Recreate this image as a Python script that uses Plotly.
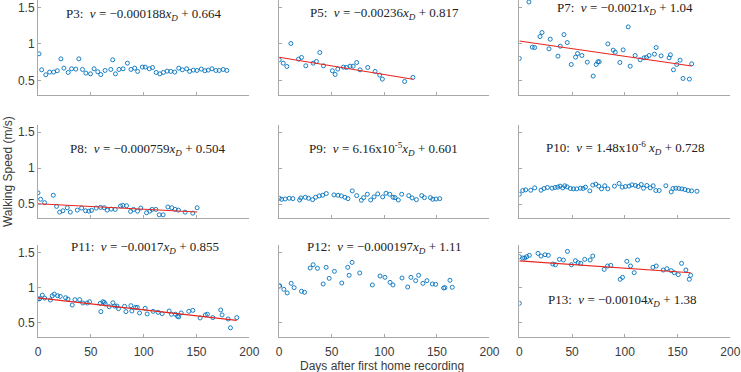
import plotly.graph_objects as go

# ---------------- data ----------------
panel_names = ["P3", "P5", "P7", "P8", "P9", "P10", "P11", "P12", "P13"]

p3_days = [1, 3.5, 7.4, 11, 14.8, 18.3, 21.7, 24.5, 28.6, 31.8, 35.8, 38.7, 42.1, 45.3, 49.7, 53.1, 56.6, 59.4,
           63.5, 68.9, 70.7, 73.3, 76.7, 80.5, 84.6, 88, 91.5, 94.3, 98.7, 101.5, 105.3, 108.4, 111.8, 115.3,
           118.7, 122.2, 125.6, 129.4, 133.2, 136.6, 140.7, 143.5, 147, 150.4, 154.5, 157.9, 161.1, 164.6,
           168.3, 171.5, 175.3, 178.7]
p3_speed = [0.864, 0.645, 0.577, 0.614, 0.614, 0.632, 0.795, 0.668, 0.609, 0.659, 0.655, 0.795, 0.65, 0.6,
            0.59, 0.659, 0.618, 0.58, 0.636, 0.65, 0.782, 0.59, 0.65, 0.659, 0.736, 0.65, 0.668, 0.623, 0.682,
            0.682, 0.659, 0.677, 0.609, 0.59, 0.609, 0.627, 0.623, 0.614, 0.668, 0.645, 0.659, 0.623, 0.641,
            0.636, 0.655, 0.632, 0.641, 0.659, 0.636, 0.636, 0.65, 0.636]

p5_days = [0, 3.8, 7.3, 11.1, 18.4, 21.2, 25.3, 32.3, 35.4, 38.6, 42.1, 50.6, 53.2, 55.7, 61.1, 63.9, 67.4,
           70.3, 73.7, 76.9, 84.2, 91.2, 95.6, 98.1, 119.3, 127.2]
p5_speed = [0.782, 0.736, 0.691, 1.005, 0.791, 0.814, 0.7, 0.736, 0.759, 0.882, 0.7, 0.632, 0.582, 0.655,
            0.682, 0.677, 0.695, 0.695, 0.745, 0.645, 0.677, 0.623, 0.573, 0.518, 0.486, 0.541]

p7_days = [0, 9.1, 12.3, 14.5, 19.6, 21.5, 28.1, 29.3, 36.6, 38.8, 42.3, 45.4, 49.2, 53.3, 55.2, 59.3, 64.4,
           70, 72.9, 74.5, 75.7, 83.9, 89, 90.9, 95.3, 98.4, 103.2, 105.1, 109.8, 114.5, 118.3, 120.5, 123,
           128.1, 129.7, 134.4, 142, 143.2, 146.1, 149.2, 152.4, 155.2, 161.2, 163.4]
p7_speed = [0.8, 1.573, 0.955, 0.95, 1.1, 1.155, 0.932, 1.064, 0.832, 0.968, 1.127, 1.018, 0.718, 0.818,
            0.868, 0.841, 0.75, 0.559, 0.718, 0.755, 0.755, 1.0, 0.914, 0.886, 0.745, 0.918, 1.232, 0.695,
            0.841, 0.782, 0.809, 0.814, 0.841, 0.859, 0.95, 0.836, 0.809, 0.85, 0.645, 0.718, 0.777, 0.527,
            0.518, 0.727]

p8_days = [0, 2.5, 6.3, 14.5, 17.6, 20.5, 23.6, 27.7, 30.6, 37.2, 41.3, 45, 48.2, 50.7, 55.1, 59.2, 62.7,
           65.5, 69.3, 73.1, 78.1, 80.3, 83.8, 87.6, 90.4, 94.2, 97.3, 102.7, 105.8, 108, 111.5, 114.7, 118.4,
           122.9, 126.6, 129.8, 132.9, 139.2, 146.5, 150.6]
p8_speed = [0.655, 0.566, 0.519, 0.622, 0.467, 0.387, 0.406, 0.448, 0.387, 0.415, 0.444, 0.406, 0.401, 0.411,
            0.444, 0.453, 0.448, 0.415, 0.429, 0.425, 0.472, 0.481, 0.476, 0.397, 0.425, 0.401, 0.444, 0.378,
            0.401, 0.425, 0.425, 0.35, 0.35, 0.458, 0.448, 0.425, 0.415, 0.387, 0.373, 0.448]

p9_days = [0, 2.2, 5.7, 9.5, 13, 19.4, 20.6, 24.8, 27.9, 31.8, 34.6, 38.1, 41.3, 44.8, 52.1, 55.9, 59.1, 62.5,
           65.4, 69.5, 73.7, 78.1, 80.3, 83.8, 87, 90.2, 93.7, 98.4, 101.6, 105.1, 108.3, 110.2, 113.3, 116.5,
           123.2, 126.4, 130.5, 135.6, 138.1, 143.8, 146, 149.2, 152.7]
p9_speed = [0.58, 0.566, 0.57, 0.58, 0.575, 0.556, 0.585, 0.594, 0.58, 0.561, 0.594, 0.613, 0.622, 0.646,
            0.627, 0.622, 0.613, 0.594, 0.575, 0.683, 0.617, 0.552, 0.589, 0.636, 0.556, 0.599, 0.641, 0.599,
            0.65, 0.636, 0.594, 0.589, 0.556, 0.636, 0.617, 0.585, 0.561, 0.617, 0.589, 0.589, 0.566, 0.57,
            0.575]

p10_days = [0, 3.2, 6, 10.8, 14.6, 20.6, 23.4, 26.6, 31, 33.9, 36.4, 38.6, 41.1, 43, 45.3, 48.4, 51.3, 54.4,
            57.9, 60.5, 62.7, 66.8, 69.6, 72.5, 75.3, 77.9, 81, 83.9, 90.2, 94.6, 97.5, 100.6, 104.1, 106.7,
            110.1, 112.7, 115.5, 117.7, 120.9, 124.1, 126.9, 129.4, 132.6, 138.9, 144, 145.6, 148.4, 151.3,
            154.1, 157, 160.1, 163.3, 168.4]
p10_speed = [0.636, 0.688, 0.697, 0.692, 0.725, 0.692, 0.716, 0.73, 0.72, 0.73, 0.735, 0.749, 0.725, 0.754,
             0.739, 0.716, 0.711, 0.711, 0.72, 0.716, 0.735, 0.683, 0.763, 0.777, 0.749, 0.711, 0.754, 0.711,
             0.749, 0.786, 0.735, 0.744, 0.749, 0.767, 0.758, 0.744, 0.772, 0.72, 0.758, 0.725, 0.754, 0.688,
             0.688, 0.754, 0.669, 0.716, 0.72, 0.716, 0.711, 0.702, 0.688, 0.683, 0.678]

p11_days = [0, 1.6, 4.1, 6.3, 11.7, 13.5, 15.4, 18.6, 21.1, 26.1, 28.4, 32.4, 35, 39.4, 42.5, 46.6, 48.8, 58.9,
            59.5, 61.4, 62.7, 63.6, 67.4, 70.9, 72.5, 74.7, 76.2, 81.9, 83.2, 87.9, 88.8, 92.3, 93.9, 96.1,
            101.4, 103.3, 109, 113.7, 117.5, 124.1, 126.3, 130.1, 132, 133.2, 135.5, 142.7, 146.5, 153.4,
            158.4, 160.3, 165.4, 172.9, 174.2, 179.9, 182.1, 188.1]
p11_speed = [0.838, 0.843, 0.894, 0.852, 0.824, 0.885, 0.908, 0.885, 0.876, 0.857, 0.838, 0.754, 0.829, 0.829,
             0.782, 0.782, 0.8, 0.777, 0.66, 0.8, 0.791, 0.768, 0.73, 0.786, 0.739, 0.739, 0.702, 0.735, 0.66,
             0.744, 0.669, 0.72, 0.72, 0.641, 0.707, 0.627, 0.664, 0.65, 0.631, 0.669, 0.622, 0.622, 0.594,
             0.585, 0.641, 0.664, 0.678, 0.57, 0.613, 0.622, 0.575, 0.683, 0.613, 0.556, 0.43, 0.575]

p12_days = [0, 0.6, 4.4, 7.6, 11.4, 14.2, 21.2, 24.1, 29.4, 32.3, 36.4, 41.8, 44.6, 47.5, 52.5, 59.5, 65.2,
            66.5, 69.3, 76.6, 88.6, 95.9, 100.6, 105.4, 108.2, 116.8, 122.2, 125.3, 129.8, 132.6, 136.7,
            140.5, 145.6, 148.8, 156.4, 157.6, 162.4, 164.6]
p12_speed = [1.024, 1.024, 0.976, 0.925, 1.061, 1.0, 0.948, 0.934, 1.278, 1.325, 1.274, 1.052, 1.288, 1.132,
             1.231, 1.066, 1.288, 1.175, 1.358, 1.208, 1.038, 1.165, 1.146, 1.075, 1.038, 1.137, 1.009, 1.146,
             1.099, 1.175, 1.061, 1.099, 1.052, 1.047, 0.995, 1.0, 1.104, 1.005]

p13_days = [0, 0, 3.2, 5.1, 7, 9.5, 17.7, 20.6, 24.4, 27.5, 31.7, 34.2, 38, 41.8, 45.6, 49.4, 53.2, 55.7, 58.2,
            62, 67.1, 69.6, 80.4, 83.6, 86.7, 95.6, 97.8, 101.9, 105.4, 108.9, 112, 126.6, 129.8, 136.4,
            139.9, 144, 146.9, 150.7, 153.8, 157.9, 161.1, 162.4]
p13_speed = [0.778, 1.439, 1.42, 1.42, 1.439, 1.458, 1.486, 1.448, 1.467, 1.458, 1.335, 1.325, 1.401, 1.392,
             1.514, 1.325, 1.382, 1.354, 1.344, 1.401, 1.392, 1.448, 1.259, 1.307, 1.316, 1.118, 1.146, 1.373,
             1.307, 1.212, 1.392, 1.288, 1.307, 1.25, 1.269, 1.241, 1.212, 1.184, 1.344, 1.25, 1.118, 1.175]

# regression coefficients (from the panel labels)
fit_slope = [-0.000188, -0.00236, -0.0021, -0.000759, 6.16e-5, 1.48e-6, -0.0017, -0.000197, -0.00104]
fit_intercept = [0.664, 0.817, 1.04, 0.504, 0.601, 0.728, 0.855, 1.11, 1.38]
fit_shown = [False, True, True, True, False, False, True, False, True]

eq_labels = [
    "P3:  <i>v</i> = \u22120.000188<i>x<sub>D</sub></i> + 0.664",
    "P5:  <i>v</i> = \u22120.00236<i>x<sub>D</sub></i> + 0.817",
    "P7:  <i>v</i> = \u22120.0021<i>x<sub>D</sub></i> + 1.04",
    "P8:  <i>v</i> = \u22120.000759<i>x<sub>D</sub></i> + 0.504",
    "P9:  <i>v</i> = 6.16x10<sup>-5</sup><i>x<sub>D</sub></i> + 0.601",
    "P10:  <i>v</i> = 1.48x10<sup>-6</sup> <i>x<sub>D</sub></i> + 0.728",
    "P11:  <i>v</i> = \u22120.0017<i>x<sub>D</sub></i> + 0.855",
    "P12:  <i>v</i> = \u22120.000197<i>x<sub>D</sub></i> + 1.11",
    "P13:  <i>v</i> = \u22120.00104<i>x<sub>D</sub></i> + 1.38",
]
label_x = [100, 100, 100, 104, 99, 101, 101, 100, 98]
label_y = [1.408, 1.418, 1.49, 1.262, 1.262, 1.276, 1.57, 1.57, 0.814]

x_ticks = [0, 50, 100, 150, 200]
y_ticks = [0.5, 1, 1.5]
y_tick_text = ["0.5", "1", "1.5"]
x_title = "Days after first home recording"
y_title = "Walking Speed (m/s)"

all_days = [p3_days, p5_days, p7_days, p8_days, p9_days, p10_days, p11_days, p12_days, p13_days]
all_speed = [p3_speed, p5_speed, p7_speed, p8_speed, p9_speed, p10_speed, p11_speed, p12_speed, p13_speed]

# ---------------- layout geometry ----------------
col_domains = [[0.0014, 0.306], [0.349, 0.652], [0.695, 0.999]]
row_domains = [[0.718, 1.0], [0.352, 0.629], [0.0, 0.272]]

MARKER_COLOR = "#0072BD"
LINE_COLOR = "#E8251F"
AXIS_COLOR = "#A8A8A8"
TEXT_COLOR = "#3A3A3A"

fig = go.Figure()
layout = {}
annotations = []

for i, name in enumerate(panel_names):
    r, c = divmod(i, 3)
    k = "" if i == 0 else str(i + 1)
    xa, ya = "x" + k, "y" + k
    fig.add_trace(go.Scatter(
        x=all_days[i], y=all_speed[i], mode="markers", xaxis=xa, yaxis=ya,
        marker=dict(symbol="circle-open", size=4, color=MARKER_COLOR, line=dict(width=0.9, color=MARKER_COLOR)),
        showlegend=False, hoverinfo="x+y"))
    if fit_shown[i]:
        xmax = max(all_days[i])
        fig.add_trace(go.Scatter(
            x=[0, xmax], y=[fit_intercept[i], fit_intercept[i] + fit_slope[i] * xmax],
            mode="lines", xaxis=xa, yaxis=ya, line=dict(color=LINE_COLOR, width=1.1),
            showlegend=False, hoverinfo="skip"))
    layout["xaxis" + k] = dict(
        domain=col_domains[c], anchor=ya, range=[0, 200], tickvals=x_ticks,
        showticklabels=(r == 2), ticks="inside", ticklen=3, tickcolor=AXIS_COLOR,
        showline=True, linecolor=AXIS_COLOR, linewidth=1, showgrid=False, zeroline=False,
        tickfont=dict(family="Liberation Sans, Arial", size=12, color=TEXT_COLOR), ticklabelstandoff=4)
    layout["yaxis" + k] = dict(
        domain=row_domains[r], anchor=xa, range=[0.3, 1.6], tickvals=y_ticks, ticktext=y_tick_text,
        showticklabels=(c == 0), ticks="inside", ticklen=3, tickcolor=AXIS_COLOR,
        showline=True, linecolor=AXIS_COLOR, linewidth=1, showgrid=False, zeroline=False,
        tickfont=dict(family="Liberation Sans, Arial", size=12, color=TEXT_COLOR), ticklabelstandoff=0)
    annotations.append(dict(
        x=label_x[i], y=label_y[i], xref=xa, yref=ya, text=eq_labels[i], showarrow=False,
        xanchor="center", yanchor="middle",
        font=dict(family="Liberation Serif, Times New Roman", size=13, color="#222222")))

annotations.append(dict(x=(383 - 37) / 696, y=(337 - 366) / 337, xref="paper", yref="paper",
                        text=x_title, showarrow=False, xanchor="center", yanchor="middle",
                        font=dict(family="Liberation Sans, Arial", size=12, color=TEXT_COLOR)))
annotations.append(dict(x=(8 - 37) / 696, y=(337 - 172) / 337, xref="paper", yref="paper",
                        text=y_title, showarrow=False, xanchor="center", yanchor="middle", textangle=-90,
                        font=dict(family="Liberation Sans, Arial", size=12, color=TEXT_COLOR)))

fig.update_layout(**layout)
fig.update_layout(
    width=741, height=372, margin=dict(l=37, r=8, t=0, b=35),
    paper_bgcolor="white", plot_bgcolor="white", annotations=annotations, showlegend=False)

# remove the default page margin so the figure sits at the window's top-left corner
fig.write_html("out.html", config={"displayModeBar": False},
               post_script="document.body.style.margin='0';")
